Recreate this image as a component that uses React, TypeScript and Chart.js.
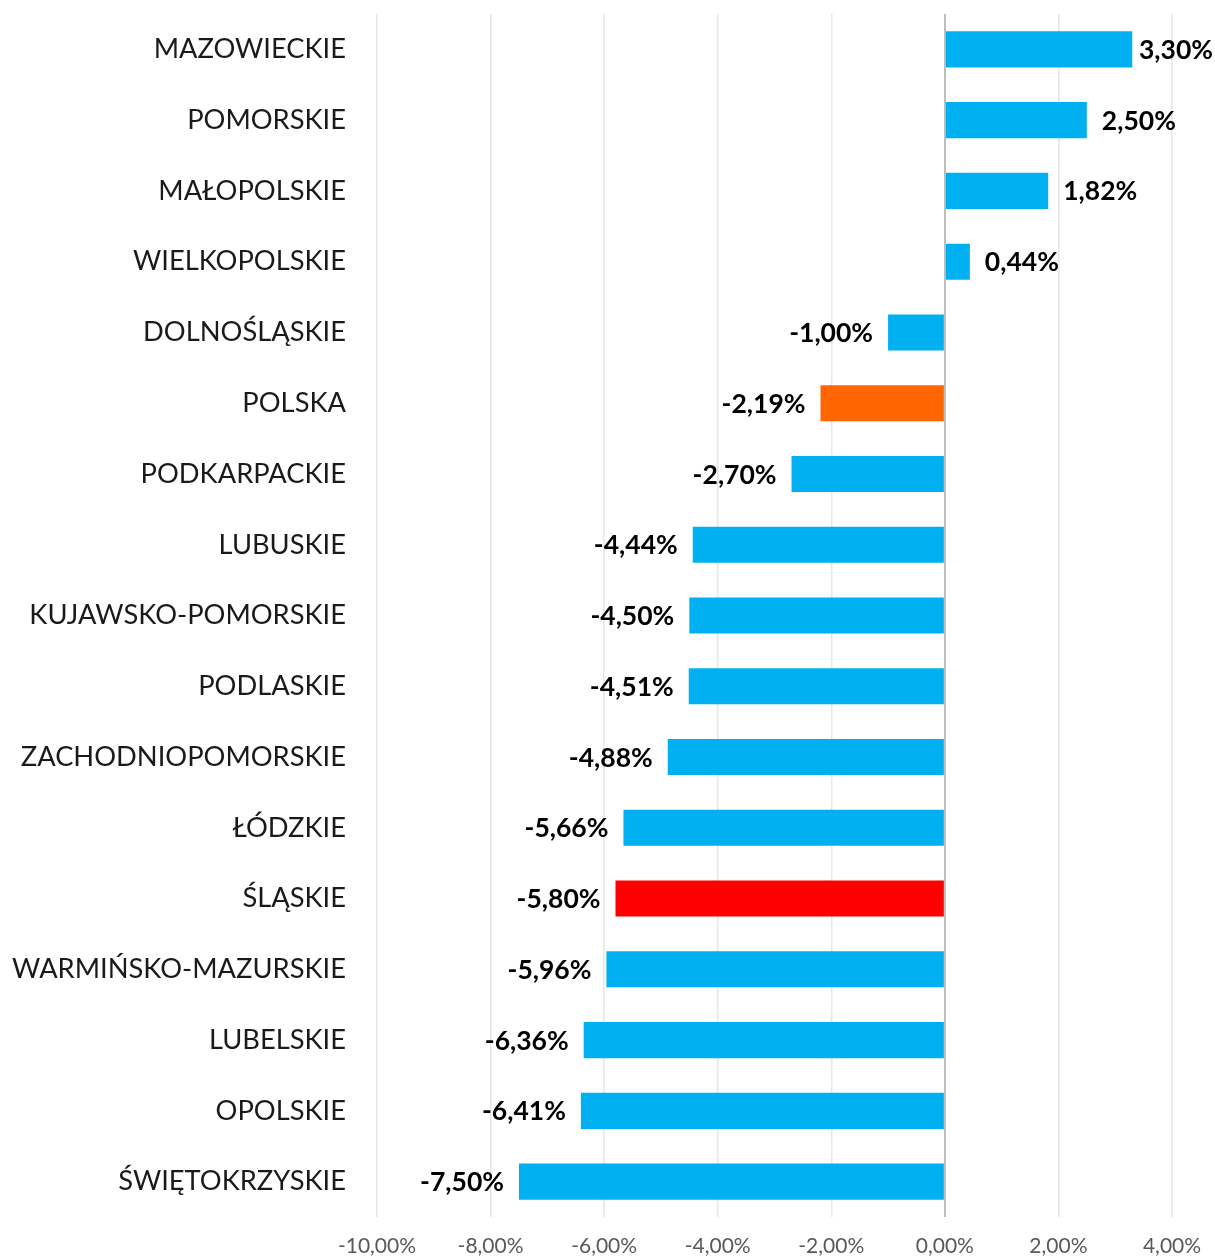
import React, { useEffect, useRef } from "react";
import { Chart, registerables } from "chart.js";

Chart.register(...registerables);

const categories = [
  "MAZOWIECKIE",
  "POMORSKIE",
  "MAŁOPOLSKIE",
  "WIELKOPOLSKIE",
  "DOLNOŚLĄSKIE",
  "POLSKA",
  "PODKARPACKIE",
  "LUBUSKIE",
  "KUJAWSKO-POMORSKIE",
  "PODLASKIE",
  "ZACHODNIOPOMORSKIE",
  "ŁÓDZKIE",
  "ŚLĄSKIE",
  "WARMIŃSKO-MAZURSKIE",
  "LUBELSKIE",
  "OPOLSKIE",
  "ŚWIĘTOKRZYSKIE",
];

const values = [3.3, 2.5, 1.82, 0.44, -1.0, -2.19, -2.7, -4.44, -4.5, -4.51, -4.88, -5.66, -5.8, -5.96, -6.36, -6.41, -7.5];

const highlightColors: Record<string, string> = {
  POLSKA: "#FF6600",
  "ŚLĄSKIE": "#FF0000",
};
const defaultColor = "#00B0F0";

const xMin = -10;
const xMax = 4;
const xStep = 2;

const FONT = "Lato, 'Open Sans', sans-serif";

const fmt = (v: number) => v.toFixed(2).replace(".", ",") + "%";

const dataLabelPlugin = {
  id: "barValueLabels",
  afterDatasetsDraw(chart: any) {
    const { ctx } = chart;
    const meta = chart.getDatasetMeta(0);
    const ds = chart.data.datasets[0];
    ctx.save();
    ctx.font = `bold 26.5px ${FONT}`;
    ctx.fillStyle = "#000000";
    ctx.textBaseline = "middle";
    meta.data.forEach((bar: any, i: number) => {
      const v = ds.data[i] as number;
      const text = fmt(v);
      const w = ctx.measureText(text).width;
      const off = 15;
      let x: number;
      if (v >= 0) {
        x = bar.x + off;
        if (x + w > chart.width - 2) x = chart.width - 2 - w;
      } else {
        x = bar.x - off - w;
      }
      ctx.textAlign = "left";
      ctx.fillText(text, x, bar.y + 1);
    });
    ctx.restore();
  },
};

export default function App() {
  const ref = useRef<HTMLCanvasElement | null>(null);

  useEffect(() => {
    if (!ref.current) return;
    const chart = new Chart(ref.current, {
      type: "bar",
      data: {
        labels: categories,
        datasets: [
          {
            data: values,
            backgroundColor: categories.map((c) => highlightColors[c] || defaultColor),
            barPercentage: 0.51,
            categoryPercentage: 1,
          },
        ],
      },
      options: {
        indexAxis: "y",
        animation: false,
        responsive: true,
        maintainAspectRatio: false,
        layout: { padding: { top: 14, right: 43, left: 0, bottom: 0 } },
        plugins: {
          legend: { display: false },
          tooltip: { enabled: false },
        },
        scales: {
          x: {
            min: xMin,
            max: xMax,
            ticks: {
              stepSize: xStep,
              padding: 17,
              color: "#595959",
              font: { family: FONT, size: 21 },
              callback: (v: any) => fmt(Number(v)),
            },
            grid: {
              drawTicks: false,
              color: (c: any) => (c.tick && c.tick.value === 0 ? "#BFBFBF" : "#E6E6E6"),
              lineWidth: (c: any) => (c.tick && c.tick.value === 0 ? 2 : 1.5),
            },
            border: { display: false },
            afterFit: (s: any) => {
              s.height = 42;
              s.paddingLeft = 0;
              s.paddingRight = 0;
            },
          },
          y: {
            ticks: {
              padding: 31,
              color: "#1A1A1A",
              font: { family: FONT, size: 27.3 },
            },
            grid: { display: false, drawTicks: false },
            border: { display: false },
            afterFit: (s: any) => {
              s.width = 377;
              s.paddingTop = 0;
              s.paddingBottom = 0;
            },
          },
        },
      },
      plugins: [dataLabelPlugin],
    });
    return () => chart.destroy();
  }, []);

  return (
    <div style={{ position: "absolute", left: 0, top: 0, width: 1215, height: 1259, background: "#fff" }}>
      <canvas ref={ref} />
    </div>
  );
}
